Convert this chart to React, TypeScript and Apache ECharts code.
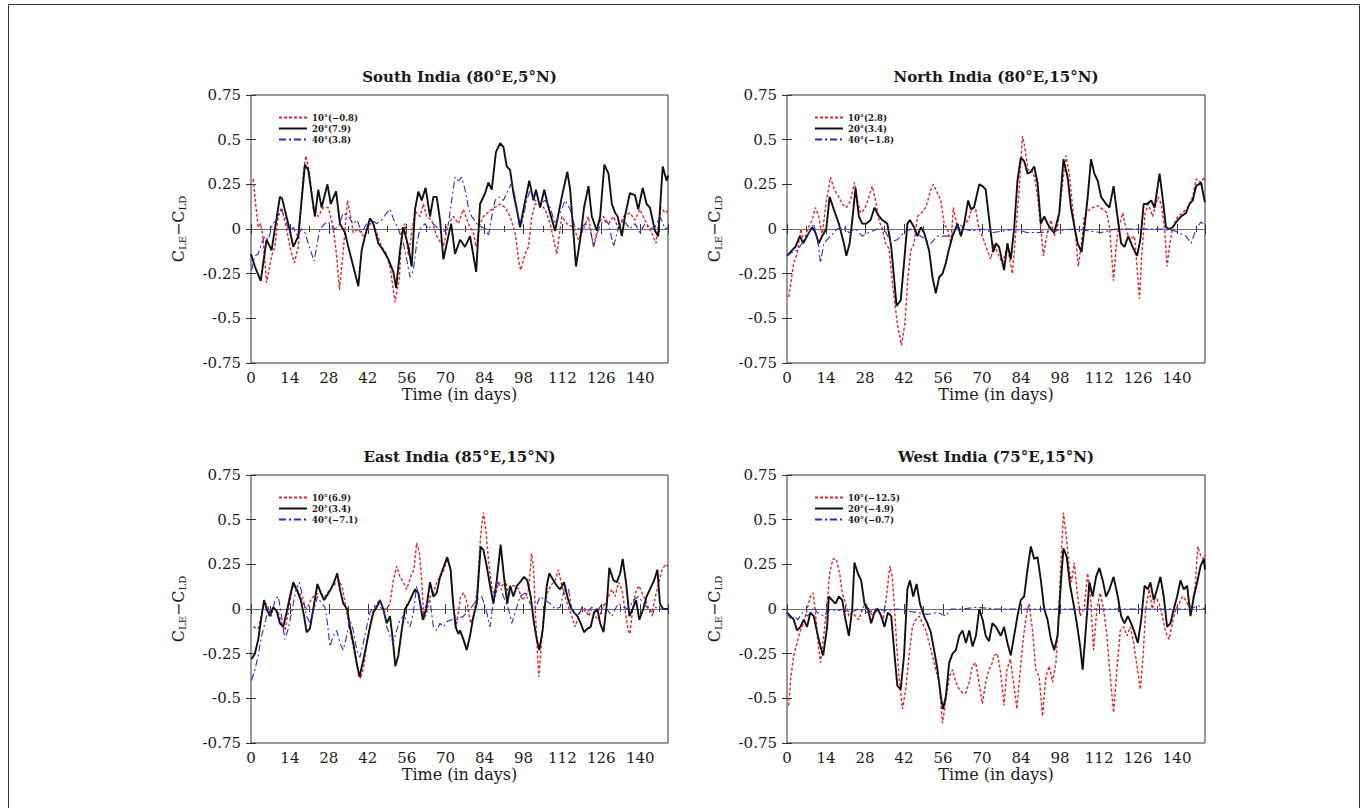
import React, { useEffect, useRef } from 'react';
import * as echarts from 'echarts';

type Pt = [number, number];

const FONT = '"DejaVu Serif", "Liberation Serif", serif';

const DAY_MIN = 0;
const DAY_MAX = 150;
const DAY_STEP = 14;
const Y_MIN = -0.75;
const Y_MAX = 0.75;
const Y_STEP = 0.25;

const panelTitles = [
  'South India (80°E,5°N)',
  'North India (80°E,15°N)',
  'East India (85°E,15°N)',
  'West India (75°E,15°N)',
];

const southNames = ['10°(−0.8)', '20°(7.9)', '40°(3.8)'];
const northNames = ['10°(2.8)', '20°(3.4)', '40°(−1.8)'];
const eastNames = ['10°(6.9)', '20°(3.4) ', '40°(−7.1)'];
const westNames = ['10°(−12.5)', '20°(−4.9)', '40°(−0.7)'];

// South India
const south10: Pt[] = [
  [0.8, 0.28], [1.8, 0.12], [2.6, 0.01], [3.5, 0.03], [4.4, -0.06], [5.6, -0.3], [7.4, -0.15], [8.6, -0.1],
  [9.8, 0.07], [11, 0.12], [12.8, 0], [14, -0.1], [15.6, -0.19], [17, -0.1], [18.8, 0.31], [19.7, 0.41],
  [20.9, 0.33], [22.4, 0.11], [24.2, 0.07], [26, 0.12], [27.8, 0.12], [29.6, 0.01], [30.8, -0.15], [31.8, -0.34],
  [33.2, -0.12], [34.7, 0.16], [35.6, 0.09], [36.8, -0.02], [38.6, 0], [40.4, -0.04], [41.6, -0.02], [43.4, 0.05],
  [45.2, -0.02], [47, -0.1], [48.8, -0.14], [50.2, -0.23], [51.8, -0.41], [53.4, -0.27], [54.2, 0], [55.4, 0.03],
  [56.6, -0.15], [57.8, -0.02], [59, 0.1], [60.8, 0.07], [62, 0.14], [63.2, 0.07], [65, 0.05], [66.8, -0.04],
  [69.2, -0.1], [71, 0.03], [72.8, 0.07], [74.6, 0.03], [76.4, 0.11], [78.2, 0.03], [80, -0.02], [81, -0.1],
  [82.4, 0.03], [83.6, 0.07], [86.6, 0.11], [89.6, 0.14], [91.4, 0.12], [93.2, 0.07], [95, -0.02], [96.2, -0.17],
  [97, -0.23], [98.6, -0.14], [99.8, -0.1], [101, 0.07], [102.2, 0.14], [104, 0.14], [105.8, 0.11], [107.6, 0.03],
  [110, -0.14], [111.8, 0.07], [113.6, 0.03], [116, 0.01], [117.8, -0.06], [119.6, 0], [121.4, 0.07], [123.2, -0.1],
  [125, 0.03], [126.8, 0.07], [128.6, 0.03], [130.4, 0.07], [132.2, 0], [134, 0.07], [136.3, 0.09], [138.1, 0.05],
  [139.9, 0.11], [141.7, 0.05], [144.1, -0.02], [145.7, -0.08], [147.4, 0.12], [149, 0.09], [150, 0.1],
];
const south20: Pt[] = [
  [0, -0.14], [1.4, -0.21], [3.5, -0.29], [5.6, -0.06], [7.4, -0.12], [10.4, 0.18], [11.2, 0.17], [14, -0.01],
  [15.2, -0.1], [17, -0.04], [19.4, 0.36], [20.6, 0.33], [23, 0.07], [24.2, 0.22], [25.4, 0.12], [27.5, 0.25],
  [28.7, 0.14], [30.6, 0.21], [32, 0.03], [33.8, -0.02], [35, -0.1], [36.8, -0.21], [38.6, -0.32], [39.8, -0.12],
  [41, -0.04], [42.8, 0.06], [44, 0.03], [45.8, -0.08], [47.6, -0.12], [49.4, -0.17], [51.2, -0.24], [52.2, -0.33],
  [53.6, -0.12], [54.8, 0.01], [56.6, -0.1], [57.8, -0.21], [59, 0.11], [60.2, 0.21], [61.4, 0.16], [62.8, 0.23],
  [64.4, 0.07], [65.6, 0.18], [66.8, 0.18], [68, 0.05], [69.2, -0.17], [71, -0.04], [72, 0.03], [73.4, -0.14],
  [75.2, -0.06], [77, -0.1], [78.8, -0.04], [81, -0.24], [82.4, 0.14], [84.2, 0.2], [85.4, 0.26], [86.6, 0.22],
  [88.1, 0.43], [89.6, 0.48], [90.8, 0.46], [92, 0.35], [93.2, 0.33], [94.4, 0.2], [95.6, 0.11], [96.8, 0.01],
  [98, 0.11], [100.1, 0.27], [101.6, 0.16], [102.5, 0.22], [104, 0.12], [105.5, 0.22], [107, 0.12], [109.4, -0.01],
  [111.8, 0.18], [113.8, 0.32], [114.8, 0.22], [116.9, -0.21], [118.4, -0.06], [119.8, 0.12], [121.4, 0.24], [122.6, 0.07],
  [124.4, -0.01], [125.6, 0.07], [127.1, 0.36], [128.6, 0.31], [129.8, 0.14], [131, 0.09], [131.9, 0.07], [133.4, -0.04],
  [134.5, 0.07], [136.3, 0.2], [138.1, 0.19], [139.3, 0.11], [140.9, 0.23], [142.3, 0.14], [143.5, 0.12], [145.3, -0.01],
  [146.5, -0.04], [148.1, 0.35], [149.5, 0.27], [150, 0.3],
];
const south40: Pt[] = [
  [0.2, -0.23], [1.4, -0.15], [2.6, -0.14], [3.8, -0.08], [5, -0.04], [6.2, -0.06], [7.8, 0.03], [9.2, 0.05],
  [10.7, 0.11], [12.2, 0.07], [13.8, -0.02], [15.2, 0.01], [16.7, -0.04], [18.2, 0], [19.4, -0.02], [21, -0.1],
  [22.7, -0.18], [23.6, -0.1], [24.8, 0], [26.6, 0.03], [27.8, 0.04], [29.6, 0], [31.4, 0.01], [33.2, 0.09],
  [35, 0.07], [36.8, 0.03], [38.2, 0.05], [39.8, -0.02], [41.6, 0.03], [43.4, 0.05], [45.2, 0.03], [47, 0.05],
  [48.8, 0.09], [50, 0.11], [51.4, 0.05], [53, 0], [54.8, -0.08], [56, -0.17], [57.2, -0.27], [58.4, -0.23],
  [59.6, -0.08], [60.8, 0], [62.6, 0.03], [63.8, 0], [65.6, 0.03], [67.4, 0], [69.2, -0.02], [71, 0.03],
  [72.2, 0.16], [73.4, 0.29], [74.6, 0.27], [75.8, 0.29], [77, 0.22], [78.2, 0.12], [79.4, 0.07], [81.2, 0.03],
  [83, 0.01], [84.5, 0], [85.4, -0.04], [86.6, 0.07], [87.8, 0.16], [89, 0.18], [90.8, 0.16], [92.6, 0.22],
  [93.8, 0.26], [95, 0.18], [96.2, 0.07], [97.4, 0.03], [99.2, 0.16], [100.4, 0.22], [102.2, 0.16], [104, 0.14],
  [105.8, 0.16], [107.6, 0.12], [109.4, 0.03], [111.2, 0.09], [113, 0.16], [114.8, 0.11], [116.6, 0.01], [118.4, 0],
  [120.2, 0.03], [122, 0], [123.2, -0.1], [125, 0], [126.8, 0.05], [128.6, 0.03], [130.4, -0.1], [132.2, 0.01],
  [134, 0.05], [136.3, 0], [138.1, 0.03], [139.9, -0.02], [141.7, 0.03], [143.5, 0], [145.3, 0.01], [147.1, 0.07],
  [149, 0], [150, 0.01],
];

// North India
const north10: Pt[] = [
  [0.6, -0.38], [1.4, -0.3], [2.4, -0.19], [3.6, -0.14], [5, 0], [6, -0.08], [7.4, 0], [9, 0.05],
  [10.2, 0.12], [11.4, 0.07], [12.6, -0.04], [13.8, 0.12], [15.6, 0.29], [17, 0.22], [18.6, 0.18], [19.8, 0.14],
  [21.3, 0.12], [22.8, 0.16], [24.2, 0.26], [25.2, 0.16], [26.4, 0.09], [27.8, 0.11], [29, 0.16], [30.6, 0.24],
  [31.8, 0.16], [33, 0.05], [34.2, 0], [35.4, -0.08], [36.6, -0.11], [38.1, -0.34], [39.6, -0.53], [41.1, -0.65],
  [42.3, -0.53], [43.4, -0.27], [44.4, -0.12], [45.6, -0.08], [46.8, 0.07], [48.2, 0.09], [49.8, 0.12], [51.6, 0.22],
  [52.5, 0.25], [54, 0.2], [55.2, 0.16], [56.4, 0.03], [57.6, 0], [58.8, -0.08], [59.7, 0.12], [60.9, 0.03],
  [62.4, -0.04], [63.6, 0.03], [65, 0.05], [66.5, 0.12], [67.7, 0.11], [68.9, 0], [70.1, -0.04], [71.9, -0.12],
  [73.1, -0.17], [74.3, -0.08], [75.7, -0.14], [77.3, -0.19], [79.1, -0.1], [80.9, -0.25], [82.1, -0.02], [83.3, 0.22],
  [84.5, 0.52], [85.3, 0.46], [86.5, 0.33], [87.7, 0.33], [88.9, 0.29], [90.1, 0.16], [91.1, 0], [92, -0.15],
  [93.2, -0.04], [94.7, 0.05], [95.9, -0.04], [97.3, 0.03], [98.9, 0.26], [100.1, 0.41], [101.3, 0.31], [102.5, 0.12],
  [103.7, -0.06], [104.5, -0.21], [105.5, -0.1], [106.7, 0.07], [107.9, 0.1], [109.7, 0.12], [111.5, 0.13], [113.3, 0.11],
  [114.8, 0.09], [115.8, 0], [116.5, -0.15], [117.2, -0.29], [118.1, -0.1], [118.9, 0], [120.5, 0.09], [121.7, 0],
  [122.9, -0.06], [124.7, -0.04], [125.9, -0.27], [126.5, -0.39], [127.3, -0.15], [128.5, 0.09], [129.7, 0.14], [131.2, 0.07],
  [133.1, 0.18], [134.3, 0.14], [135.5, 0], [136.4, -0.21], [137.2, -0.1], [138.4, 0.01], [140.2, 0.07], [142, 0.09],
  [143.8, 0.12], [145.6, 0.18], [146.8, 0.28], [148.6, 0.26], [149.8, 0.29], [150, 0.27],
];
const north20: Pt[] = [
  [0, -0.15], [1.8, -0.12], [3, -0.1], [4.6, -0.04], [5.8, -0.08], [7.2, -0.04], [9, 0.01], [10.2, -0.02],
  [11.4, -0.08], [12.6, -0.04], [14.1, 0], [15.3, 0.18], [16.8, 0.11], [18.6, 0.03], [20.4, -0.08], [21.3, -0.15],
  [22.5, -0.08], [23.7, 0.09], [24.6, 0.23], [25.8, 0.07], [27, 0.03], [28.5, 0.03], [30, 0.05], [31.4, 0.12],
  [32.6, 0.08], [34.2, 0.05], [36, 0.03], [37.4, -0.1], [38.4, -0.27], [39.3, -0.43], [40.8, -0.4], [42, -0.19],
  [43.2, 0.03], [44.1, 0.05], [45.6, 0.01], [46.8, -0.04], [48, 0.01], [49.2, -0.02], [51, -0.12], [52.2, -0.27],
  [53.4, -0.36], [54.6, -0.27], [55.8, -0.25], [57, -0.19], [58, -0.12], [59.4, -0.04], [61.2, 0.03], [62.4, -0.04],
  [63.6, 0.03], [65, 0.16], [66, 0.11], [67.1, 0.12], [69, 0.25], [70.2, 0.24], [71.3, 0.22], [72.8, 0.02],
  [74, -0.13], [75, -0.08], [76.1, -0.1], [77.9, -0.23], [79.1, -0.08], [80.3, -0.17], [81.5, 0], [82.7, 0.27],
  [83.9, 0.4], [85.1, 0.38], [86.3, 0.31], [87.5, 0.32], [88.7, 0.35], [89.9, 0.26], [91.1, 0.03], [92.3, 0.07],
  [93.5, 0.03], [94.7, 0], [95.9, -0.02], [97.7, 0.09], [99.2, 0.39], [100.7, 0.29], [101.9, 0.12], [103.3, 0],
  [104.3, -0.08], [105.7, -0.13], [106.7, 0], [107.9, 0.18], [109.1, 0.39], [110.3, 0.31], [111.5, 0.27], [112.7, 0.18],
  [114.5, 0.14], [115.7, 0.12], [117.2, 0.24], [118.4, 0.09], [119.9, -0.08], [121.1, -0.1], [122.5, -0.04], [124, -0.1],
  [125.6, -0.15], [126.8, -0.06], [128, 0.14], [129.2, 0.14], [130.7, 0.16], [131.9, 0.12], [133.7, 0.31], [134.9, 0.16],
  [136, 0.01], [137.2, 0], [138.4, 0.01], [140.2, 0.05], [141.4, 0.07], [143.2, 0.09], [144.4, 0.14], [145.6, 0.16],
  [146.8, 0.24], [148.6, 0.26], [149.8, 0.16], [150, 0.15],
];
const north40: Pt[] = [
  [0, -0.15], [1.8, -0.13], [3.6, -0.12], [5.4, -0.08], [7.2, -0.04], [9.6, 0.03], [11.4, -0.1], [12, -0.19],
  [13.2, -0.08], [15.6, -0.04], [18, 0], [20.4, 0.01], [22.2, -0.02], [24.6, 0], [27, -0.04], [29.4, -0.02],
  [32.4, 0], [34.8, 0], [37.2, -0.07], [39.6, -0.06], [42, -0.02], [44.4, 0], [48, -0.04], [51.6, -0.08],
  [54, -0.04], [57.6, -0.04], [60, -0.02], [61.8, 0.03], [63.6, 0], [66, -0.01], [70, 0], [74, -0.02],
  [78, -0.01], [82, 0], [86, -0.02], [91, -0.02], [96, -0.01], [103, 0], [108, -0.01], [112.7, -0.02],
  [118, 0], [124, 0], [128, 0], [134, 0], [139, -0.01], [143.2, -0.04], [145, -0.08], [146.8, 0],
  [148.6, 0.04], [150, 0.02],
];

// East India
const east10: Pt[] = [
  [0.8, -0.1], [2.6, -0.11], [4.4, 0.01], [5.6, 0.03], [6.8, -0.02], [8, 0.01], [9.8, -0.02], [11, -0.08],
  [12.2, -0.12], [13.4, -0.02], [15, 0.13], [16.4, 0.11], [17.6, 0.09], [18.8, 0.03], [20, 0], [21.5, 0.05],
  [23, 0.08], [24.8, 0.09], [26.6, 0.07], [28.4, 0.11], [30.2, 0.14], [31.8, 0.16], [33, 0.11], [34.2, 0],
  [35.6, -0.12], [37, -0.23], [38.2, -0.32], [39.4, -0.39], [40.6, -0.32], [41.8, -0.17], [43, -0.08], [44.2, 0],
  [45.8, 0.03], [47, 0], [48.8, 0], [50, 0.03], [51.2, 0.16], [52.4, 0.24], [53.6, 0.18], [54.8, 0.15],
  [56, 0.11], [57.4, 0.18], [58.6, 0.22], [59.6, 0.37], [60.6, 0.31], [61.4, 0.16], [62.2, -0.06], [63.2, -0.02],
  [64.4, 0.07], [65.6, 0.09], [67, 0.16], [68.2, 0.18], [69.4, 0.22], [70.6, 0.28], [71.8, 0.22], [72.8, 0.02],
  [73.8, -0.1], [75.4, 0.07], [76.6, 0.09], [77.8, 0.03], [79, -0.08], [80.2, -0.04], [81.4, 0.11], [82.6, 0.41],
  [83.6, 0.54], [84.5, 0.44], [85.5, 0.26], [86.7, 0.11], [87.9, 0.07], [89.1, 0.15], [90.3, 0.13], [91.5, 0.16],
  [92.7, 0.07], [93.9, 0.13], [95.1, 0.13], [96.3, 0.11], [97.5, 0.05], [98.7, 0.07], [99.9, 0.11], [100.9, 0.31],
  [101.6, 0.24], [102.3, -0.02], [103, -0.23], [103.5, -0.38], [104.5, -0.19], [105.4, 0], [106.6, 0.09], [107.8, 0.13],
  [109.4, 0.16], [110.6, 0.22], [111.8, 0.13], [113, 0.07], [114.2, 0.01], [115.4, -0.04], [116.6, -0.1], [117.8, -0.04],
  [119, 0.01], [120.2, 0], [121.4, -0.04], [122.6, 0], [123.8, -0.04], [125, -0.06], [126.2, 0], [127.4, 0.03],
  [128.6, 0.07], [129.8, 0.11], [131, 0.07], [132.2, 0.15], [133.4, 0.11], [134.5, 0], [135.7, -0.12], [136.3, -0.14],
  [137.3, 0], [138.3, 0.09], [139.5, 0.13], [140.7, 0.09], [141.9, 0.05], [143.1, 0], [144.3, -0.02], [145.5, 0.07],
  [146.7, 0.15], [147.9, 0.22], [149.1, 0.25], [150, 0.24],
];
const east20: Pt[] = [
  [0.2, -0.28], [1.4, -0.25], [2.6, -0.17], [3.8, -0.04], [4.7, 0.05], [5.6, 0], [6.8, -0.04], [8, 0.01],
  [9.2, -0.01], [10.4, -0.08], [11.6, -0.1], [12.8, -0.02], [14, 0.07], [15.2, 0.15], [16.4, 0.11], [17.9, 0.05],
  [19.1, -0.04], [20, -0.13], [21.2, -0.11], [22.4, 0], [23.9, 0.14], [25.1, 0.09], [26.3, 0.05], [27.5, 0.08],
  [28.7, 0.11], [29.9, 0.15], [31, 0.2], [32, 0.11], [33.2, 0.03], [34.6, 0], [35.6, -0.1], [36.8, -0.19],
  [38, -0.3], [39, -0.38], [40.2, -0.3], [41.4, -0.21], [42.8, -0.1], [44, -0.02], [45.2, 0.01], [46.4, 0.05],
  [47.6, 0], [48.8, -0.08], [50, -0.04], [51, -0.17], [51.9, -0.32], [53, -0.26], [54.2, -0.12], [55.4, 0],
  [56.6, 0.03], [57.8, 0.07], [59, 0.11], [60.2, 0.09], [61.8, -0.06], [63, 0], [64.4, 0.15], [65.6, 0.07],
  [66.8, 0.09], [68, 0.18], [69.4, 0.24], [70.6, 0.29], [71.8, 0.22], [72.6, 0.05], [73.6, -0.1], [74.6, -0.14],
  [75.2, -0.12], [76.4, -0.17], [77.6, -0.23], [78.8, -0.15], [80, -0.04], [81.2, 0.03], [82.6, 0.35], [83.6, 0.33],
  [84.8, 0.24], [86, 0.13], [87.2, 0.03], [88.4, 0.16], [89.8, 0.36], [91, 0.18], [92.2, 0.03], [93.2, 0.13],
  [94.4, 0.07], [95.6, 0.13], [96.8, 0.15], [98.2, 0.18], [99.4, 0.16], [100.6, 0.07], [101.8, -0.08], [102.8, -0.17],
  [103.7, -0.23], [104.9, -0.12], [106.4, 0.13], [107.3, 0.2], [108.8, 0.16], [110, 0.13], [111.2, 0.11], [112.6, 0.15],
  [113.8, 0.07], [115, 0.01], [116.2, -0.02], [117.4, -0.04], [118.6, -0.08], [119.8, -0.13], [121, -0.11], [122.2, -0.1],
  [123.4, -0.02], [124.6, 0], [125.6, -0.08], [126.8, -0.13], [128, 0.03], [128.9, 0.23], [130.4, 0.16], [131.6, 0.15],
  [132.8, 0.2], [133.7, 0.28], [134.9, 0.15], [136.1, -0.04], [137.3, 0], [138.5, 0.05], [139.7, -0.06], [141.1, 0],
  [142.3, 0.07], [143.5, 0.11], [145, 0.16], [146.2, 0.22], [147.1, 0.03], [148.3, 0], [150, 0],
];
const east40: Pt[] = [
  [0.2, -0.4], [1.4, -0.34], [2.6, -0.26], [3.8, -0.15], [5, -0.08], [6.2, 0], [7.4, -0.04], [8.6, 0.05],
  [9.8, 0.07], [11, -0.04], [12.2, -0.17], [13.4, -0.11], [14.6, -0.02], [16.2, 0.11], [17.4, 0.15], [18.6, 0.07],
  [20, -0.04], [21.2, -0.08], [22.7, 0], [23.9, 0.07], [25.4, 0.03], [26.6, 0.01], [27.5, -0.08], [28.4, -0.21],
  [29.6, -0.15], [30.8, -0.12], [32, -0.19], [33.2, -0.23], [34.4, -0.15], [35.6, -0.06], [36.8, -0.12], [38, -0.23],
  [39.2, -0.27], [40.4, -0.19], [41.6, -0.1], [42.8, -0.02], [44, 0.01], [45.2, 0.03], [46.4, 0.05], [47.6, 0],
  [48.8, -0.1], [50, -0.15], [51.2, -0.19], [52.4, -0.12], [53.6, -0.06], [54.8, -0.04], [56, -0.06], [57.2, -0.1],
  [58.4, -0.02], [59.6, 0.13], [60.8, 0.03], [62, -0.02], [63.2, 0.03], [64.4, 0.05], [65.6, -0.1], [66.8, -0.12],
  [68, -0.08], [69.2, -0.1], [70.4, -0.07], [72.2, -0.06], [74, -0.06], [76.4, -0.04], [78.8, 0], [81.2, 0.05],
  [83, 0.07], [84.8, -0.02], [86, -0.1], [87.2, 0.05], [88.4, 0.15], [89.6, 0.13], [90.8, 0.07], [92.6, 0],
  [93.8, -0.08], [95, -0.02], [96.8, 0.07], [98.6, 0.09], [100.4, 0.03], [102.2, 0], [104, 0.07], [105.8, 0.05],
  [107.6, 0.03], [109.4, 0], [111.2, 0.01], [113, 0.13], [114.2, 0.11], [115.4, 0], [117.2, -0.04], [119, 0],
  [120.8, -0.02], [122.6, 0.01], [124.4, -0.02], [126.2, 0.03], [128, 0], [129.8, -0.04], [131, 0], [132.2, 0.03],
  [134, 0.01], [135.8, 0], [137.6, 0.05], [139.4, 0.07], [141.2, 0.03], [143, 0], [144.2, -0.04], [145.4, 0.01],
  [147.2, 0], [149, 0], [150, 0],
];

// West India
const west10: Pt[] = [
  [0.6, -0.54], [1.4, -0.38], [2.4, -0.26], [3.6, -0.19], [4.8, -0.12], [6, -0.08], [7.2, 0], [8.4, 0.07],
  [9.4, 0.09], [10.2, -0.02], [11, -0.17], [12, -0.3], [13.2, -0.15], [14.4, 0.03], [15.3, 0.2], [16.5, 0.28],
  [17.7, 0.28], [18.9, 0.2], [19.8, 0.09], [21, 0.03], [22.2, -0.04], [23.4, -0.02], [24.6, -0.04], [25.8, -0.06],
  [27, 0], [28.2, 0.03], [29.4, 0], [30.6, -0.04], [32.1, 0.01], [33.3, -0.02], [34.5, -0.06], [35.7, 0.07],
  [36.9, 0.24], [37.8, 0.18], [38.6, 0], [39.3, -0.19], [40.2, -0.38], [41.4, -0.56], [42.6, -0.45], [43.8, -0.26],
  [45, -0.1], [46.2, -0.06], [47.4, -0.04], [48.6, -0.08], [49.8, -0.12], [51, -0.19], [52.2, -0.26], [53.4, -0.34],
  [54.6, -0.41], [55.8, -0.64], [57, -0.51], [58.2, -0.38], [59.4, -0.34], [60.6, -0.41], [61.8, -0.45], [63, -0.47],
  [64.2, -0.47], [65.4, -0.41], [66.5, -0.32], [67.7, -0.3], [68.9, -0.41], [70.1, -0.53], [71.3, -0.41], [72.5, -0.34],
  [73.7, -0.3], [74.3, -0.26], [75.5, -0.25], [76.7, -0.36], [77.9, -0.54], [78.9, -0.34], [80.1, -0.28], [81.3, -0.41],
  [82.5, -0.56], [83.7, -0.34], [84.9, -0.15], [86.1, -0.02], [86.9, 0.03], [88.1, -0.12], [89.3, -0.34], [90.5, -0.38],
  [91.7, -0.6], [92.9, -0.38], [94.1, -0.32], [95.3, -0.41], [96.5, -0.3], [97.3, -0.08], [98.3, 0.26], [99.2, 0.54],
  [100.2, 0.41], [101.3, 0.22], [102.1, 0.15], [103.1, 0.26], [104, 0.11], [105.2, -0.04], [106.7, 0.01], [107.9, 0.2],
  [109.1, 0.03], [110, -0.23], [111.2, 0], [112.4, 0.09], [113.6, 0], [114.8, -0.15], [116, -0.38], [117.2, -0.58],
  [118.4, -0.34], [119.6, -0.12], [120.8, -0.1], [122, -0.15], [123.2, -0.1], [124.4, -0.19], [125.6, -0.32], [126.8, -0.45],
  [127.8, -0.26], [128.7, 0], [130, 0.11], [131.1, 0], [132.3, 0.07], [133.5, 0.03], [134.7, -0.04], [135.9, -0.13],
  [137.1, -0.17], [138.3, -0.08], [139.5, 0], [140.7, 0.03], [141.9, 0.07], [143.1, 0.05], [144.3, 0.01], [145.5, 0.03],
  [146.5, 0.13], [147.4, 0.35], [148.6, 0.29], [149.8, 0.28], [150, 0.3],
];
const west20: Pt[] = [
  [0, -0.02], [1.2, -0.04], [2.4, -0.06], [3.6, -0.12], [4.8, -0.1], [6, -0.06], [7.2, -0.1], [8.4, -0.02],
  [9.6, -0.04], [10.8, -0.13], [12, -0.21], [13, -0.26], [14.4, -0.1], [15, 0.07], [16.2, 0.05], [17.4, 0.03],
  [18.6, 0.07], [19.8, 0.05], [21, -0.06], [22.2, -0.15], [23.4, 0], [24.2, 0.26], [25.4, 0.2], [26.6, 0.16],
  [27.8, 0.03], [29, 0], [30.2, -0.08], [31.4, -0.02], [32.6, 0], [33.8, -0.04], [35, -0.1], [36.2, -0.02],
  [37.4, -0.04], [38.6, -0.26], [39.6, -0.43], [40.8, -0.45], [42, -0.26], [43.2, 0.11], [44.1, 0.16], [45.3, 0.07],
  [46.5, 0.14], [47.7, 0.03], [49.2, -0.04], [50.4, -0.08], [51.6, -0.13], [52.8, -0.23], [54, -0.34], [55.2, -0.49],
  [56, -0.56], [57, -0.49], [58.2, -0.3], [59.4, -0.25], [60.6, -0.23], [61.8, -0.15], [63, -0.12], [64.2, -0.19],
  [65.4, -0.12], [66.6, -0.21], [67.8, -0.15], [69, 0], [70.2, -0.06], [71.3, -0.15], [72.5, -0.18], [73.7, -0.08],
  [75, -0.1], [76.7, -0.15], [77.9, -0.1], [79.1, -0.19], [80.3, -0.26], [81.5, -0.15], [82.7, -0.04], [83.9, 0.05],
  [85.1, 0.07], [86.3, 0.22], [87.5, 0.35], [88.7, 0.28], [89.9, 0.29], [91.1, 0.16], [92.3, 0], [93.5, -0.06],
  [94.7, -0.17], [95.9, -0.23], [97.1, -0.15], [98.3, 0.15], [99.2, 0.34], [100.4, 0.29], [101.6, 0.13], [102.8, 0.03],
  [104, -0.08], [105.2, -0.21], [106.1, -0.34], [107.3, -0.1], [108.5, 0.15], [109.7, 0.07], [110.9, 0.18], [112.1, 0.23],
  [113.3, 0.16], [114.5, 0.07], [115.7, 0.11], [117.2, 0.18], [118.7, 0.07], [119.9, -0.04], [121.1, -0.08], [122.3, -0.04],
  [123.5, -0.08], [124.7, -0.13], [125.9, -0.19], [127.1, -0.06], [128.3, 0.13], [129.5, 0.11], [130.4, 0.15], [131.6, 0.05],
  [132.8, 0.11], [134, 0.18], [135.2, 0.07], [136.4, -0.1], [137.6, -0.08], [138.8, 0], [140, 0.07], [141.2, 0.16],
  [142.4, 0.11], [143.6, 0.13], [144.8, -0.04], [146, 0.07], [147.2, 0.15], [148.4, 0.24], [149.6, 0.28], [150, 0.22],
];
const west40: Pt[] = [
  [0, -0.02], [1.4, -0.06], [2.6, -0.04], [3.8, -0.06], [5.6, -0.02], [7.4, -0.04], [9.6, 0.01], [10.8, -0.02],
  [13.2, -0.04], [15.6, 0], [18, -0.01], [20.4, 0], [22.8, -0.02], [25.8, 0], [28.8, -0.02], [32.4, 0],
  [36, -0.01], [39.6, 0], [43, -0.01], [46.8, -0.02], [50.4, -0.03], [54, -0.02], [57, -0.04], [58.8, 0],
  [63, 0], [68, 0.01], [75, 0], [85, 0], [95, 0], [105, 0], [115, 0], [125, 0],
  [135, 0], [145, 0], [147.4, 0.02], [148.6, 0.01], [150, 0],
];

const panels = [
  { title: panelTitles[0], names: southNames, series: [south10, south20, south40] },
  { title: panelTitles[1], names: northNames, series: [north10, north20, north40] },
  { title: panelTitles[2], names: eastNames, series: [east10, east20, east40] },
  { title: panelTitles[3], names: westNames, series: [west10, west20, west40] },
];

const grids = [
  { left: 251, top: 95, width: 417, height: 268 },
  { left: 787, top: 95, width: 418, height: 268 },
  { left: 251, top: 475, width: 417, height: 268 },
  { left: 787, top: 475, width: 418, height: 268 },
];

const lineStyles = [
  { color: '#e8262a', width: 1.4, type: [3, 2] as number[] },
  { color: '#111111', width: 1.9, type: 'solid' as const },
  { color: '#2a2ad6', width: 1.1, type: [7, 3, 2, 3] as number[] },
];

const INK = '#1a1a1a';

function buildOption(): echarts.EChartsOption {
  const xAxes: any[] = [];
  const yAxes: any[] = [];
  const series: any[] = [];
  const legends: any[] = [];
  const graphics: any[] = [];

  panels.forEach((p, i) => {
    const g = grids[i];
    const tick = { inside: true, length: 5, lineStyle: { color: '#333', width: 1 } };
    const minor = { show: true, splitNumber: 2, length: 3, lineStyle: { color: '#333', width: 1 } };
    const xBase = {
      gridIndex: i,
      type: 'value',
      min: DAY_MIN,
      max: DAY_MAX,
      interval: DAY_STEP,
      axisLine: { show: false },
      axisTick: tick,
      minorTick: minor,
      splitLine: { show: false },
      minorSplitLine: { show: false },
    };
    xAxes.push({
      ...xBase,
      position: 'bottom',
      axisLabel: {
        fontFamily: FONT,
        fontSize: 15,
        color: INK,
        margin: 7,
        formatter: (v: number) => (v % DAY_STEP === 0 ? String(v) : ''),
      },
      name: 'Time (in days)',
      nameLocation: 'middle',
      nameGap: 23,
      nameTextStyle: { fontFamily: FONT, fontSize: 16, color: INK },
    });
    xAxes.push({ ...xBase, position: 'top', axisLabel: { show: false } });

    const yBase = {
      gridIndex: i,
      type: 'value',
      min: Y_MIN,
      max: Y_MAX,
      interval: Y_STEP,
      axisLine: { show: false },
      axisTick: tick,
      splitLine: { show: false },
    };
    yAxes.push({
      ...yBase,
      position: 'left',
      axisLabel: { fontFamily: FONT, fontSize: 15, color: INK, margin: 10 },
      name: '{c|C}{s|LE}{c|−C}{s|LD}',
      nameLocation: 'middle',
      nameRotate: 90,
      nameGap: 64,
      nameTextStyle: {
        fontFamily: FONT,
        color: INK,
        rich: {
          c: { fontFamily: FONT, fontSize: 16, color: INK, lineHeight: 18 },
          s: { fontFamily: FONT, fontSize: 10, color: INK, lineHeight: 8, verticalAlign: 'bottom' },
        },
      },
    });
    yAxes.push({ ...yBase, position: 'right', axisLabel: { show: false } });

    p.series.forEach((data, k) => {
      const s: any = {
        type: 'line',
        name: p.names[k],
        xAxisIndex: 2 * i,
        yAxisIndex: 2 * i,
        data,
        symbol: 'none',
        showSymbol: false,
        lineStyle: lineStyles[k],
        itemStyle: { color: lineStyles[k].color },
        z: 3 + k,
      };
      if (k === 0) {
        s.markLine = {
          silent: true,
          symbol: ['none', 'none'],
          label: { show: false },
          lineStyle: { color: '#6b6b6b', width: 1, type: 'solid' },
          data: [{ yAxis: 0 }],
          z: 1,
        };
      }
      series.push(s);
    });

    legends.push({
      data: p.names,
      orient: 'vertical',
      left: g.left + 27,
      top: g.top + 18,
      itemWidth: 28,
      itemHeight: 8,
      itemGap: 2,
      padding: 0,
      selectedMode: false,
      itemStyle: { opacity: 0 },
      textStyle: { fontFamily: FONT, fontSize: 8.5, fontWeight: 'bold', color: INK },
    });

    graphics.push({
      type: 'text',
      x: g.left + g.width / 2,
      y: g.top - 18,
      style: {
        text: p.title,
        font: `bold 15px ${FONT}`,
        fill: INK,
        textAlign: 'center',
        textVerticalAlign: 'middle',
      },
    });
  });

  graphics.push({
    type: 'rect',
    shape: { x: 8.5, y: 4.5, width: 1351, height: 820 },
    style: { fill: 'none', stroke: '#333', lineWidth: 1 },
    silent: true,
  });

  return {
    animation: false,
    backgroundColor: '#ffffff',
    grid: grids.map((g) => ({ ...g, show: true, borderColor: '#333', borderWidth: 1, backgroundColor: 'transparent' })),
    xAxis: xAxes,
    yAxis: yAxes,
    legend: legends,
    series,
    graphic: graphics,
  } as echarts.EChartsOption;
}

export default function App() {
  const ref = useRef<HTMLDivElement>(null);
  useEffect(() => {
    if (!ref.current) return;
    const chart = echarts.init(ref.current, undefined, { renderer: 'svg' });
    chart.setOption(buildOption());
    return () => chart.dispose();
  }, []);
  return (
    <div
      ref={ref}
      style={{ position: 'absolute', left: 0, top: 0, width: 1368, height: 808, background: '#fff' }}
    />
  );
}
